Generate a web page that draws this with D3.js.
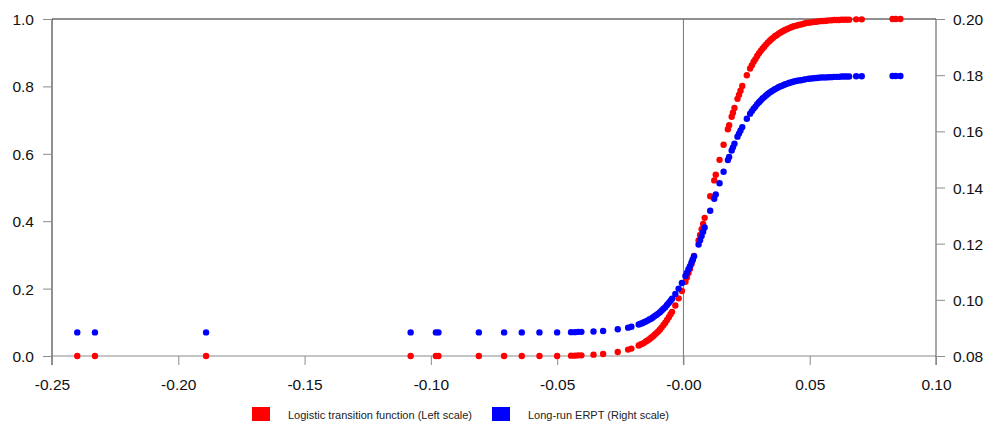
<!DOCTYPE html>
<html>
<head>
<meta charset="utf-8">
<script src="https://cdn.jsdelivr.net/npm/d3@7"></script>
<style>
  body { margin: 0; background: #fff; }
  svg { display: block; font-family: "Liberation Sans", Arial, sans-serif; }
</style>
</head>
<body>
<svg id="chart" width="990" height="425"></svg>
<script>
// threshold variable (x axis)
const xValues = [
  -0.240, -0.233, -0.189, -0.108, -0.098, -0.097, -0.081, -0.071, -0.064, -0.057,
  -0.050, -0.0445, -0.043, -0.0417, -0.0404, -0.0356, -0.0318, -0.0260, -0.0219, -0.0206,
  -0.0177, -0.0170, -0.0163, -0.0156, -0.0149, -0.0142, -0.0135, -0.0128, -0.0121, -0.0114,
  -0.0107, -0.0100, -0.0093, -0.0086, -0.0079, -0.0072, -0.0065, -0.0058, -0.0051, -0.0045,
  -0.0032, -0.0019, -0.0006, 0.0008, 0.0014, 0.0020, 0.0026, 0.0032, 0.0037, 0.0042,
  0.0060, 0.0066, 0.0072, 0.0078, 0.0084, 0.0106, 0.0122, 0.0128, 0.0143, 0.0159,
  0.0176, 0.0181, 0.0191, 0.0196, 0.0202, 0.0214, 0.0220, 0.0226, 0.0233, 0.0251,
  0.0264, 0.0271, 0.0278, 0.0285, 0.0292, 0.0299, 0.0306, 0.0313, 0.0320, 0.0327,
  0.0334, 0.0341, 0.0348, 0.0355, 0.0362, 0.0369, 0.0376, 0.0383, 0.0390, 0.0397,
  0.0404, 0.0411, 0.0418, 0.0425, 0.0432, 0.0439, 0.0446, 0.0456, 0.0466, 0.0476,
  0.0486, 0.0496, 0.0506, 0.0516, 0.0526, 0.0536, 0.0546, 0.0556, 0.0566, 0.0576,
  0.0586, 0.0596, 0.0606, 0.0616, 0.0626, 0.0636, 0.0646, 0.0656, 0.0684, 0.0706,
  0.0828, 0.0841, 0.0859
];

// logistic transition function (left scale)
const logisticValues = [
  0.000, 0.000, 0.000, 0.000, 0.000, 0.000, 0.000, 0.000, 0.000, 0.000,
  0.000, 0.001, 0.001, 0.002, 0.002, 0.004, 0.006, 0.012, 0.019, 0.022,
  0.031, 0.034, 0.036, 0.039, 0.043, 0.046, 0.050, 0.054, 0.058, 0.063,
  0.068, 0.073, 0.079, 0.085, 0.092, 0.099, 0.107, 0.115, 0.124, 0.131,
  0.150, 0.171, 0.193, 0.220, 0.233, 0.246, 0.259, 0.273, 0.285, 0.297,
  0.343, 0.359, 0.376, 0.392, 0.410, 0.474, 0.521, 0.538, 0.582, 0.627,
  0.673, 0.685, 0.710, 0.722, 0.736, 0.763, 0.775, 0.787, 0.801, 0.833,
  0.853, 0.863, 0.873, 0.881, 0.890, 0.898, 0.905, 0.912, 0.918, 0.924,
  0.930, 0.935, 0.940, 0.944, 0.949, 0.952, 0.956, 0.959, 0.962, 0.965,
  0.968, 0.970, 0.973, 0.975, 0.977, 0.979, 0.980, 0.982, 0.984, 0.986,
  0.988, 0.989, 0.990, 0.991, 0.992, 0.993, 0.994, 0.994, 0.995, 0.996,
  0.996, 0.997, 0.997, 0.997, 0.998, 0.998, 0.998, 0.998, 0.999, 0.999,
  1.000, 1.000, 1.000
];

// long-run ERPT (right scale)
const erptValues = [
  0.0884, 0.0884, 0.0884, 0.0884, 0.0884, 0.0884, 0.0884, 0.0884, 0.0884, 0.0884,
  0.0884, 0.0885, 0.0885, 0.0886, 0.0886, 0.0887, 0.0889, 0.0895, 0.0901, 0.0904,
  0.0912, 0.0915, 0.0917, 0.0920, 0.0923, 0.0926, 0.0930, 0.0933, 0.0937, 0.0942,
  0.0946, 0.0951, 0.0956, 0.0962, 0.0968, 0.0974, 0.0982, 0.0989, 0.0997, 0.1004,
  0.1021, 0.1040, 0.1060, 0.1085, 0.1097, 0.1109, 0.1120, 0.1133, 0.1144, 0.1155,
  0.1197, 0.1212, 0.1227, 0.1242, 0.1258, 0.1317, 0.1360, 0.1375, 0.1415, 0.1456,
  0.1498, 0.1509, 0.1532, 0.1543, 0.1556, 0.1581, 0.1592, 0.1603, 0.1615, 0.1645,
  0.1663, 0.1672, 0.1681, 0.1688, 0.1697, 0.1704, 0.1710, 0.1717, 0.1722, 0.1728,
  0.1733, 0.1738, 0.1742, 0.1746, 0.1750, 0.1753, 0.1757, 0.1760, 0.1762, 0.1765,
  0.1768, 0.1770, 0.1772, 0.1774, 0.1776, 0.1778, 0.1779, 0.1781, 0.1782, 0.1784,
  0.1786, 0.1787, 0.1788, 0.1789, 0.1790, 0.1791, 0.1792, 0.1792, 0.1792, 0.1793,
  0.1793, 0.1794, 0.1794, 0.1794, 0.1795, 0.1795, 0.1795, 0.1795, 0.1796, 0.1796,
  0.1797, 0.1797, 0.1797
];

const xTicks = [-0.25, -0.20, -0.15, -0.10, -0.05, 0.00, 0.05, 0.10];
const xTickLabels = ['-0.25', '-0.20', '-0.15', '-0.10', '-0.05', '-0.00', '0.05', '0.10'];
const leftTicks = [0.0, 0.2, 0.4, 0.6, 0.8, 1.0];
const rightTicks = [0.08, 0.10, 0.12, 0.14, 0.16, 0.18, 0.20];
const legendLabels = ['Logistic transition function (Left scale)', 'Long-run ERPT (Right scale)'];
const seriesColors = ['#ff0000', '#0000ff'];

const svg = d3.select('#chart');
const plotLeft = 52, plotRight = 936, plotTop = 19, plotBottom = 356, tickLen = 9;

const x = d3.scaleLinear().domain([-0.25, 0.10]).range([plotLeft, plotRight]);
const yLeft = d3.scaleLinear().domain([0, 1]).range([plotBottom, plotTop]);
const yRight = d3.scaleLinear().domain([0.08, 0.20]).range([plotBottom, plotTop]);

const gray = '#8c8c8c';

// frame lines
svg.append('line').attr('x1', plotLeft).attr('x2', plotRight).attr('y1', plotTop).attr('y2', plotTop)
  .attr('stroke', '#222').attr('stroke-width', 1);
svg.append('line').attr('x1', plotLeft).attr('x2', plotRight).attr('y1', plotBottom).attr('y2', plotBottom)
  .attr('stroke', gray).attr('stroke-width', 1);
svg.append('line').attr('x1', plotLeft).attr('x2', plotLeft).attr('y1', plotTop).attr('y2', plotBottom + tickLen)
  .attr('stroke', '#222').attr('stroke-width', 1);
svg.append('line').attr('x1', plotRight).attr('x2', plotRight).attr('y1', plotTop).attr('y2', plotBottom + tickLen)
  .attr('stroke', '#555').attr('stroke-width', 1);

// zero line
svg.append('line').attr('x1', x(0)).attr('x2', x(0)).attr('y1', plotTop).attr('y2', plotBottom + tickLen)
  .attr('stroke', '#777').attr('stroke-width', 1);

// axes
const xAxis = svg.append('g')
  .attr('transform', `translate(0,${plotBottom})`)
  .call(d3.axisBottom(x).tickValues(xTicks).tickSize(tickLen).tickSizeOuter(0)
    .tickFormat((d, i) => xTickLabels[i]));

const lAxis = svg.append('g')
  .attr('transform', `translate(${plotLeft},0)`)
  .call(d3.axisLeft(yLeft).tickValues(leftTicks).tickSize(tickLen).tickSizeOuter(0)
    .tickFormat(d3.format('.1f')));

const rAxis = svg.append('g')
  .attr('transform', `translate(${plotRight},0)`)
  .call(d3.axisRight(yRight).tickValues(rightTicks).tickSize(tickLen).tickSizeOuter(0)
    .tickFormat(d3.format('.2f')));

[xAxis, lAxis, rAxis].forEach(g => {
  g.select('.domain').remove();
  g.selectAll('.tick line').attr('stroke', gray);
  g.selectAll('.tick text')
    .attr('fill', '#111')
    .style('font-size', '15.5px')
    .style('font-family', '"Liberation Sans", Arial, sans-serif');
});
xAxis.selectAll('.tick text').attr('dy', null).attr('y', 34);
lAxis.selectAll('.tick text').attr('x', -18).attr('dy', '0.36em');
rAxis.selectAll('.tick text').attr('x', 17).attr('dy', '0.36em');

// points
const points = xValues.map((d, i) => ({ x: d, g: logisticValues[i], e: erptValues[i] }));

svg.append('g').selectAll('circle')
  .data(points)
  .enter()
  .append('circle')
  .attr('cx', d => x(d.x))
  .attr('cy', d => yLeft(d.g))
  .attr('r', 3.2)
  .attr('fill', seriesColors[0]);

svg.append('g').selectAll('circle')
  .data(points)
  .enter()
  .append('circle')
  .attr('cx', d => x(d.x))
  .attr('cy', d => yRight(d.e))
  .attr('r', 3.2)
  .attr('fill', seriesColors[1]);

// legend
const legendX = [252, 492];
const legend = svg.append('g');
legendLabels.forEach((label, i) => {
  legend.append('rect')
    .attr('x', legendX[i]).attr('y', 407)
    .attr('width', 18).attr('height', 14)
    .attr('fill', seriesColors[i]);
  legend.append('text')
    .attr('x', legendX[i] + 36).attr('y', 418.5)
    .attr('fill', '#222')
    .style('font-size', '11px')
    .text(label);
});
</script>
</body>
</html>
